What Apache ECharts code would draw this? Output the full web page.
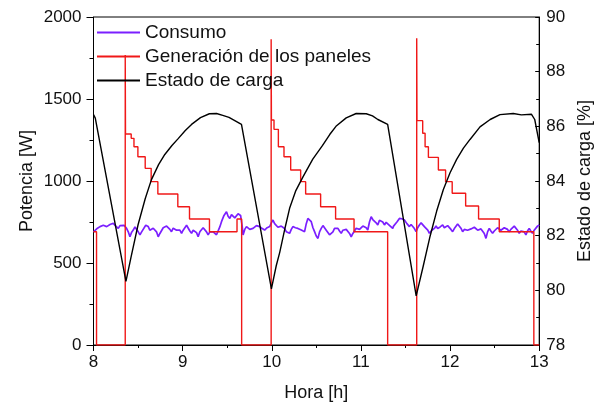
<!DOCTYPE html>
<html>
<head>
<meta charset="utf-8">
<script src="https://cdn.jsdelivr.net/npm/echarts@6/dist/echarts.min.js"></script>
<style>html,body{margin:0;padding:0;background:#fff;}#chart{width:602px;height:407px;}</style>
</head>
<body>
<div id="chart"></div>
<script>
// ---- data ----
const xTicks = [8, 9, 10, 11, 12, 13];
const seriesNames = ['Consumo', 'Generación de los paneles', 'Estado de carga'];

// Consumo [hora, W]
const consumo = [
[8.000,690],[8.008,698],[8.017,691],[8.045,712],[8.073,722],[8.110,730],[8.148,722],[8.185,735],[8.222,742],[8.250,725],
[8.278,711],[8.297,728],[8.315,722],[8.343,730],[8.371,711],[8.390,690],[8.409,660],[8.428,688],[8.446,701],[8.465,720],
[8.484,711],[8.502,690],[8.521,671],[8.540,690],[8.558,701],[8.586,730],[8.614,722],[8.632,700],[8.651,691],[8.670,712],
[8.689,722],[8.707,690],[8.726,660],[8.745,680],[8.763,691],[8.782,715],[8.801,711],[8.820,725],[8.838,732],[8.857,705],
[8.875,691],[8.894,712],[8.913,722],[8.932,700],[8.950,711],[8.969,700],[8.988,681],[9.006,700],[9.025,711],[9.044,730],
[9.062,722],[9.081,695],[9.100,681],[9.118,700],[9.137,711],[9.156,685],[9.174,660],[9.193,690],[9.212,701],[9.230,715],
[9.249,722],[9.268,690],[9.286,671],[9.305,690],[9.324,701],[9.343,690],[9.361,681],[9.380,672],[9.398,660],[9.417,720],
[9.436,752],[9.464,790],[9.492,813],[9.510,785],[9.529,772],[9.548,795],[9.566,793],[9.585,775],[9.604,782],[9.622,800],
[9.641,803],[9.650,790],[9.660,793],[9.669,720],[9.678,671],[9.697,705],[9.716,722],[9.753,705],[9.790,711],[9.828,728],
[9.865,722],[9.893,710],[9.920,701],[9.948,715],[9.977,722],[9.995,745],[10.013,762],[10.032,740],[10.050,732],[10.069,718],
[10.088,711],[10.106,725],[10.125,732],[10.144,710],[10.163,691],[10.181,695],[10.200,681],[10.219,705],[10.237,722],[10.265,715],
[10.293,711],[10.312,700],[10.331,701],[10.350,710],[10.368,691],[10.387,740],[10.405,772],[10.424,760],[10.443,752],[10.462,715],
[10.480,691],[10.499,665],[10.518,650],[10.536,690],[10.555,711],[10.574,728],[10.592,722],[10.611,700],[10.630,691],[10.648,672],
[10.667,660],[10.686,690],[10.704,711],[10.723,700],[10.742,711],[10.760,695],[10.779,681],[10.798,700],[10.816,691],[10.835,705],
[10.854,701],[10.872,680],[10.891,660],[10.910,680],[10.928,691],[10.947,712],[10.966,722],[10.984,705],[11.003,711],[11.022,725],
[11.040,732],[11.059,715],[11.077,701],[11.096,750],[11.115,782],[11.133,765],[11.152,772],[11.171,745],[11.189,732],[11.208,760],
[11.227,772],[11.245,750],[11.264,732],[11.283,748],[11.301,742],[11.329,725],[11.357,711],[11.366,725],[11.376,722],[11.404,750],
[11.432,772],[11.460,770],[11.488,762],[11.516,740],[11.544,722],[11.563,735],[11.581,742],[11.600,710],[11.619,691],[11.637,715],
[11.656,732],[11.675,745],[11.693,742],[11.712,722],[11.731,711],[11.750,700],[11.768,681],[11.796,700],[11.824,711],[11.843,725],
[11.861,711],[11.889,720],[11.917,732],[11.936,715],[11.955,711],[11.973,728],[11.992,722],[12.010,705],[12.029,691],[12.048,710],
[12.067,722],[12.085,738],[12.104,742],[12.122,712],[12.141,691],[12.160,705],[12.179,711],[12.197,700],[12.216,691],[12.235,708],
[12.253,701],[12.272,718],[12.291,711],[12.310,700],[12.328,691],[12.347,708],[12.365,711],[12.384,680],[12.403,650],[12.421,690],
[12.440,711],[12.458,695],[12.477,681],[12.496,695],[12.515,701],[12.533,715],[12.552,711],[12.570,700],[12.589,701],[12.608,715],
[12.627,722],[12.645,705],[12.664,691],[12.682,705],[12.701,711],[12.720,725],[12.739,722],[12.757,700],[12.776,681],[12.795,695],
[12.813,701],[12.832,690],[12.851,671],[12.869,695],[12.888,711],[12.906,695],[12.925,681],[12.944,700],[12.963,711],[12.981,725],
[13.000,732]
];

// Generación de los paneles [hora de inicio del escalón, W]
const generacion = [
[8.000,691],[8.034,0],
[8.356,1768],[8.359,1287],[8.423,1260],[8.454,1209],[8.498,1148],[8.580,1077],[8.647,996],[8.722,921],[8.946,843],[9.077,768],[9.301,691],[9.610,768],[9.662,0],
[9.993,1865],[9.996,1372],[10.025,1315],[10.074,1209],[10.137,1148],[10.212,1067],[10.324,996],[10.380,921],[10.548,843],[10.716,768],[10.923,691],[11.300,0],
[11.626,1870],[11.629,1368],[11.693,1291],[11.720,1209],[11.757,1144],[11.869,1067],[11.950,996],[12.024,925],[12.175,848],[12.320,768],[12.552,691],[12.940,0],
[13.000,0]
];

// Estado de carga [hora, %]
const estadoCarga = [
[8.000,86.43],[8.020,86.30],[8.364,80.33],[8.420,81.20],[8.500,82.40],[8.580,83.35],[8.650,84.05],[8.730,84.60],[8.800,84.97],[8.880,85.30],
[8.950,85.55],[9.030,85.85],[9.100,86.07],[9.200,86.32],[9.300,86.46],[9.380,86.47],[9.450,86.40],[9.520,86.33],[9.580,86.22],[9.660,86.07],
[9.996,80.05],[10.050,80.90],[10.090,81.40],[10.150,82.30],[10.200,83.00],[10.270,83.65],[10.350,84.15],[10.460,84.80],[10.570,85.30],[10.650,85.70],
[10.720,86.00],[10.835,86.31],[10.947,86.47],[11.060,86.46],[11.130,86.38],[11.190,86.25],[11.300,86.07],
[11.620,79.80],[11.700,80.90],[11.776,81.98],[11.850,82.90],[11.925,83.69],[12.000,84.30],[12.074,84.79],[12.150,85.20],[12.224,85.52],
[12.336,85.98],[12.450,86.25],[12.560,86.43],[12.709,86.47],[12.800,86.42],[12.914,86.44],[12.950,86.25],[13.000,85.40]
];

const FONT = "Arial, 'Liberation Sans', sans-serif";
const TXT = '#111';
const chart = echarts.init(document.getElementById('chart'), null, {renderer: 'canvas'});
const axisCommon = {
  axisLine: {show: true, onZero: false, lineStyle: {color: '#000', width: 1}},
  splitLine: {show: false},
  nameTextStyle: {fontSize: 18, color: TXT, fontFamily: FONT}
};
const plain = v => String(v);
chart.setOption({
  animation: false,
  backgroundColor: '#fff',
  grid: {left: 93.5, right: 62, top: 17, bottom: 61.5, show: true, borderColor: '#000', borderWidth: 1, backgroundColor: 'transparent'},
  legend: {
    orient: 'vertical', left: 96, top: 23, padding: 0, itemWidth: 43, itemHeight: 14, itemGap: 5,
    data: seriesNames,
    itemStyle: {opacity: 0},
    textStyle: {fontSize: 19, color: TXT, fontFamily: FONT}
  },
  xAxis: Object.assign({}, axisCommon, {
    type: 'value', min: 8, max: 13, interval: 1,
    name: 'Hora [h]', nameLocation: 'middle', nameGap: 39,
    axisTick: {show: true, inside: false, length: 6, lineStyle: {color: '#000'}},
    minorTick: {show: true, splitNumber: 2, length: 3, lineStyle: {color: '#000'}},
    axisLabel: {fontSize: 17, color: TXT, fontFamily: FONT, margin: 9,
      formatter: v => (xTicks.indexOf(v) >= 0 ? String(v) : '')}
  }),
  yAxis: [
    Object.assign({}, axisCommon, {
      type: 'value', min: 0, max: 2000, interval: 500, position: 'left',
      name: 'Potencia [W]', nameLocation: 'middle', nameRotate: 90, nameGap: 57, nameMoveOverlap: false,
      axisTick: {show: true, inside: false, length: 7, lineStyle: {color: '#000'}},
      minorTick: {show: true, splitNumber: 2, length: 4, lineStyle: {color: '#000'}},
      axisLabel: {fontSize: 17, color: TXT, fontFamily: FONT, margin: 12, formatter: plain}
    }),
    Object.assign({}, axisCommon, {
      type: 'value', min: 78, max: 90, interval: 2, position: 'right',
      name: 'Estado de carga [%]', nameLocation: 'middle', nameRotate: 90, nameGap: 36,
      axisTick: {show: true, inside: true, length: 4, lineStyle: {color: '#000'}},
      minorTick: {show: true, splitNumber: 2, length: 3, lineStyle: {color: '#000'}},
      axisLabel: {fontSize: 17, color: TXT, fontFamily: FONT, margin: 7, formatter: plain}
    })
  ],
  series: [
    {name: seriesNames[0], type: 'line', yAxisIndex: 0, data: consumo, symbol: 'none',
     lineStyle: {color: '#7b1fff', width: 1.7}, itemStyle: {color: '#7b1fff', opacity: 0}},
    {name: seriesNames[1], type: 'line', yAxisIndex: 0, data: generacion, symbol: 'none', step: 'end',
     lineStyle: {color: '#f01818', width: 1.4}, itemStyle: {color: '#f01818', opacity: 0}},
    {name: seriesNames[2], type: 'line', yAxisIndex: 1, data: estadoCarga, symbol: 'none',
     lineStyle: {color: '#000', width: 1.4}, itemStyle: {color: '#000', opacity: 0}}
  ]
});
</script>
</body>
</html>
